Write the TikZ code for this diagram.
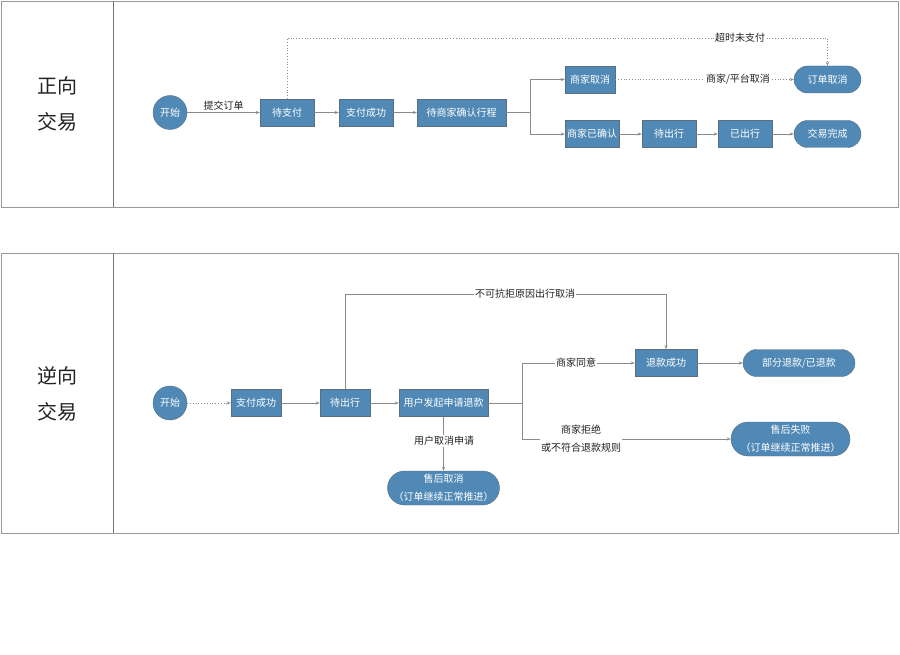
\documentclass[tikz,border=0pt]{standalone}
\usepackage{fontspec}
\setmainfont{Noto Sans CJK SC}
\usetikzlibrary{arrows.meta}
\definecolor{nodeblue}{HTML}{5089B6}
\definecolor{nodeedge}{HTML}{5A6E80}
\definecolor{linegray}{HTML}{8A8A8A}
\definecolor{txt}{HTML}{222222}
\tikzset{
  box/.style={draw=nodeedge, fill=nodeblue, text=white, font=\fontsize{10}{12}\selectfont, minimum height=27pt, inner sep=2pt},
  pill/.style={draw=nodeedge, fill=nodeblue, text=white, font=\fontsize{10}{12}\selectfont, rounded corners=13.5pt, minimum height=27pt, inner sep=2pt},
  pilltwo/.style={draw=nodeedge, fill=nodeblue, text=white, font=\fontsize{10}{18}\selectfont, rounded corners=17pt, minimum height=34pt, inner sep=1pt, align=center},
  startc/.style={circle, draw=nodeedge, fill=nodeblue, text=white, font=\fontsize{10}{12}\selectfont, minimum size=34pt, inner sep=0pt},
  conn/.style={draw=linegray, line width=0.8pt, -{Stealth[length=4pt,width=3pt]}},
  dconn/.style={conn, dotted, line width=0.7pt},
  lab/.style={fill=white, text=txt, font=\fontsize{10}{18}\selectfont, inner sep=1pt, align=center},
  lanetxt/.style={text=txt, font=\fontsize{20}{36}\selectfont, align=center},
  frame/.style={draw=gray!80, line width=0.8pt},
}
\begin{document}
\begin{tikzpicture}[x=1pt,y=-1pt]
\useasboundingbox (0,0) rectangle (900,655);
% lanes
\draw[frame] (1,1) rectangle (898,207);
\draw[draw=gray!90!black, line width=1pt] (113.5,1) -- (113.5,207);
\node[lanetxt] (lane1) at (57,104) {正向\\交易};
\draw[frame] (1,253) rectangle (898,533);
\draw[draw=gray!90!black, line width=1pt] (113.5,253) -- (113.5,533);
\node[lanetxt] (lane2) at (57,394) {逆向\\交易};

% top lane nodes
\node[startc] (s1) at (170,112.5) {开始};
\node[box, minimum width=54pt] (a1) at (287,112.5) {待支付};
\node[box, minimum width=54pt] (a2) at (366,112.5) {支付成功};
\node[box, minimum width=89pt] (a3) at (461.5,112.5) {待商家确认行程};
\node[box, minimum width=50pt] (a4) at (590,79.5) {商家取消};
\node[box, minimum width=54pt] (a5) at (592,134) {商家已确认};
\node[box, minimum width=54pt] (a6) at (669,134) {待出行};
\node[box, minimum width=54pt] (a7) at (745,134) {已出行};
\node[pill, minimum width=67pt] (a8) at (827.5,79.5) {订单取消};
\node[pill, minimum width=67pt] (a9) at (827.5,134) {交易完成};
\coordinate (j1) at (530,112.5);
\coordinate (c1) at (827.5,38);

\draw[conn] (s1) -- node[lab, above=1pt, fill=none] {提交订单} (a1);
\draw[conn] (a1) -- (a2);
\draw[conn] (a2) -- (a3);
\draw[conn] (a3.east) -- (j1) |- (a4.west);
\draw[conn] (j1) |- (a5.west);
\draw[conn] (a5) -- (a6);
\draw[conn] (a6) -- (a7);
\draw[conn] (a7) -- (a9);
\draw[dconn] (a4) -- (a8);
\node[lab] (l1) at (738,79.5) {商家/平台取消};
\draw[dconn] (a1.north) |- (c1) -- (a8.north);
\node[lab] (l2) at (740,38) {超时未支付};

% bottom lane nodes
\node[startc] (s2) at (170,403) {开始};
\node[box, minimum width=50pt] (b1) at (256,403) {支付成功};
\node[box, minimum width=50pt] (b2) at (345,403) {待出行};
\node[box, minimum width=89pt] (b3) at (443.5,403) {用户发起申请退款};
\node[box, minimum width=62pt] (b4) at (666,363) {退款成功};
\node[pill, minimum width=112pt] (b5) at (799,363) {部分退款/已退款};
\node[pilltwo, minimum width=119pt] (b6) at (790.5,439) {售后失败\\（订单继续正常推进）};
\node[pilltwo, minimum width=112pt] (b7) at (443.5,488) {售后取消\\（订单继续正常推进）};
\coordinate (j2) at (522,403);
\coordinate (c2) at (666,294);

\draw[dconn] (s2) -- (b1);
\draw[conn] (b1) -- (b2);
\draw[conn] (b2) -- (b3);
\draw[conn] (b2.north) |- (c2) -- (b4.north);
\node[lab] (l3) at (525,294) {不可抗拒原因出行取消};
\draw[conn] (b3.east) -- (j2) |- (b4.west);
\node[lab] (l4) at (576,363) {商家同意};
\draw[conn] (j2) |- (b6.west);
\node[lab] (l5) at (581,439) {商家拒绝\\或不符合退款规则};
\draw[conn] (b3) -- (b7);
\node[lab] (l6) at (444,441) {用户取消申请};
\draw[conn] (b4) -- (b5);
\end{tikzpicture}
\end{document}
